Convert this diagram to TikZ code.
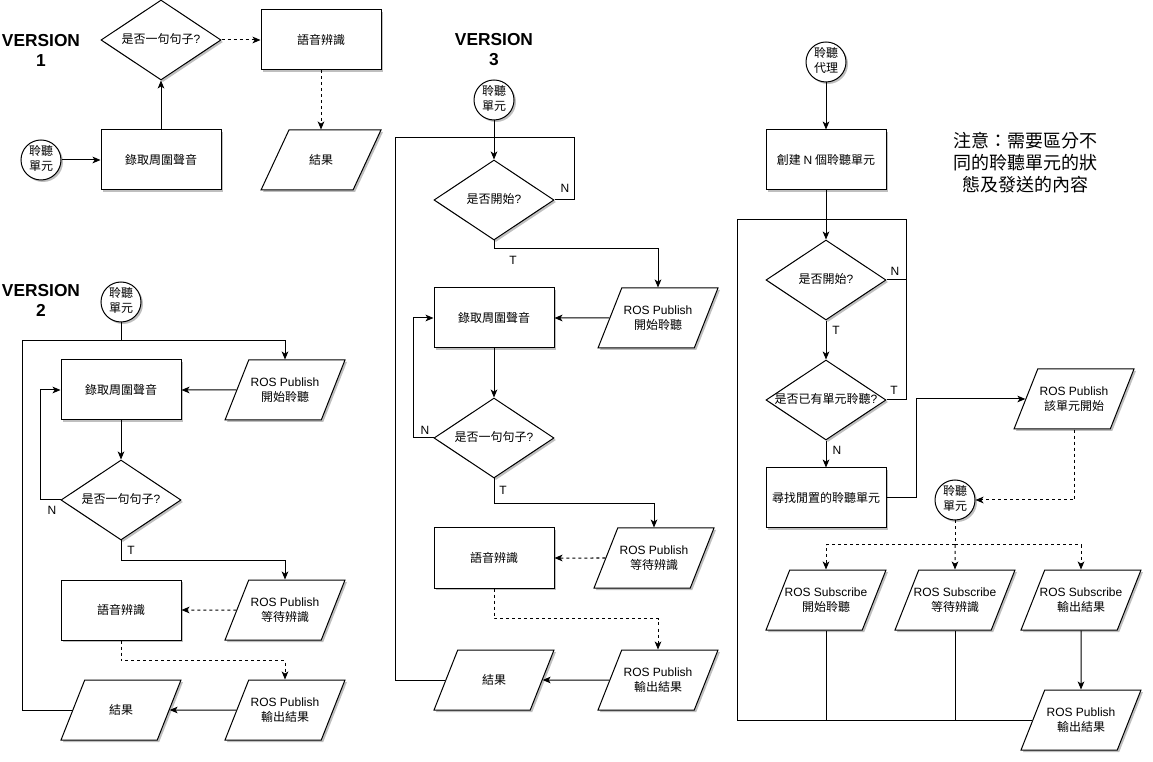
\documentclass[tikz,border=0pt]{standalone}
\usepackage{fontspec}
\setmainfont{Liberation Sans}
\newfontfamily\cjk{Noto Sans CJK TC}
\usetikzlibrary{shapes.geometric,arrows.meta,shadows}
\newcommand\la[1]{{\rmfamily #1}}
\newcommand\zw[1]{\makebox[0pt]{\begin{tabular}{@{}c@{}}#1\end{tabular}}}
\newcommand\ph{\phantom{x}}
\begin{document}
\begin{tikzpicture}[x=0.75pt,y=-0.75pt,line width=0.75pt,
  every node/.style={font=\cjk\fontsize{9}{11.5}\selectfont, inner sep=0pt},
  shd/.style={drop shadow={shadow xshift=1.5pt,shadow yshift=-1.5pt,opacity=0.25,fill=black}},
  procbox/.style={draw, fill=white, rectangle, minimum width=90pt, minimum height=45pt, shd},
  decbox/.style={draw, fill=white, diamond, minimum width=90pt, minimum height=60pt, shd},
  iobox/.style={draw, fill=white, trapezium, trapezium stretches=true, trapezium left angle=73.3, trapezium right angle=106.7, minimum width=90pt, minimum height=45pt, shd,
    label={[align=center]center:#1}},
  termbox/.style={draw, fill=white, circle, minimum size=30pt, shd},
  arr/.style={-{Stealth[length=6pt,width=5pt,inset=1.6pt]}},
  dsh/.style={dash pattern=on 2.25pt off 2.25pt},
  lbl/.style={font=\rmfamily\fontsize{9}{11}\selectfont},
  vlab/.style={font=\rmfamily\bfseries\fontsize{13}{15}\selectfont, align=center},
]
\fill[white] (0,0) rectangle (1153,762);
\useasboundingbox (0,0) rectangle (1153,762);

% ---------- VERSION 1
\node[vlab] (v1lab) at (41,50) {VERSION\\1};
\node[termbox] (v1c) at (41,160) {\zw{聆聽\\單元}};
\node[procbox] (v1rec) at (161,160) {錄取周圍聲音};
\node[decbox] (v1dec) at (161,40) {\zw{是否一句句子\la{?}}};
\node[procbox] (v1asr) at (321,40) {語音辨識};
\node[iobox={結果}, trapezium left angle=68.2, trapezium right angle=111.8] (v1res) at (321,160) {\ph};

\draw[arr] (v1c) -- (v1rec);
\draw[arr] (v1rec) -- (v1dec);
\draw[arr,dsh] (v1dec) -- (v1asr);
\draw[arr,dsh] (v1asr) -- (v1res);

% ---------- VERSION 2
\node[vlab] (v2lab) at (41,300) {VERSION\\2};
\node[termbox] (v2c) at (121,302) {\zw{聆聽\\單元}};
\node[procbox] (v2rec) at (121,390) {錄取周圍聲音};
\node[iobox={\la{ROS Publish}\\開始聆聽}] (v2pub1) at (285,390) {\ph};
\node[decbox] (v2dec) at (121,500) {\zw{是否一句句子\la{?}}};
\node[iobox={\la{ROS Publish}\\等待辨識}] (v2pub2) at (285,610) {\ph};
\node[procbox] (v2asr) at (121,610) {語音辨識};
\node[iobox={\la{ROS Publish}\\輸出結果}] (v2pub3) at (285,710) {\ph};
\node[iobox={結果}] (v2res) at (121,710) {\ph};
\coordinate (v2L) at (22,341);
\node[lbl] (v2n) at (52,510) {N};
\node[lbl] (v2t) at (131,550) {T};

\draw (v2c) -- (v2c |- v2L);
\draw[arr] (v2res.west) -| (v2L) -| (v2pub1.north);
\draw[arr] (v2pub1) -- (v2rec);
\draw[arr] (v2rec) -- (v2dec);
\draw[arr] (v2dec.west) -- ++(-20,0) |- (v2rec.west);
\draw[arr] (v2dec.south) -- ++(0,20) -| (v2pub2.north);
\draw[arr,dsh] (v2pub2) -- (v2asr);
\draw[arr,dsh] (v2asr.south) -- ++(0,20) -| (v2pub3.north);
\draw[arr] (v2pub3) -- (v2res);

% ---------- VERSION 3
\node[vlab] (v3lab) at (494,50) {VERSION\\3};
\node[termbox] (v3c) at (494,100) {\zw{聆聽\\單元}};
\node[decbox] (v3dec1) at (494,200) {\zw{是否開始\la{?}}};
\node[iobox={\la{ROS Publish}\\開始聆聽}] (v3pub1) at (658,318) {\ph};
\node[procbox] (v3rec) at (494,318) {錄取周圍聲音};
\node[decbox] (v3dec2) at (494,438) {\zw{是否一句句子\la{?}}};
\node[iobox={\la{ROS Publish}\\等待辨識}] (v3pub2) at (654,558) {\ph};
\node[procbox] (v3asr) at (494,558) {語音辨識};
\node[iobox={\la{ROS Publish}\\輸出結果}] (v3pub3) at (658,680) {\ph};
\node[iobox={結果}] (v3res) at (494,680) {\ph};
\coordinate (v3j) at (494,138);
\coordinate (v3L) at (395,138);
\node[lbl] (v3n1) at (565,188) {N};
\node[lbl] (v3t1) at (513,260) {T};
\node[lbl] (v3n2) at (425,430) {N};
\node[lbl] (v3t2) at (503,490) {T};

\draw[arr] (v3c) -- (v3dec1);
\draw (v3res.west) -| (v3L) -- (v3j);
\draw (v3dec1.east) -- ++(20,0) |- (v3j);
\draw[arr] (v3dec1.south) -- ++(0,8) -| (v3pub1.north);
\draw[arr] (v3pub1) -- (v3rec);
\draw[arr] (v3rec) -- (v3dec2);
\draw[arr] (v3dec2.west) -- ++(-20,0) |- (v3rec.west);
\draw[arr] (v3dec2.south) -- ++(0,25) -| (v3pub2.north);
\draw[arr,dsh] (v3pub2) -- (v3asr);
\draw[arr,dsh] (v3asr.south) -- ++(0,30) -| (v3pub3.north);
\draw[arr] (v3pub3) -- (v3res);

% ---------- VERSION 4 (agent)
\node[termbox] (v4c) at (826,62) {\zw{聆聽\\代理}};
\node[procbox] (v4create) at (826,160) {創建 \la{N} 個聆聽單元};
\node[decbox] (v4dec1) at (826,280) {\zw{是否開始\la{?}}};
\node[decbox] (v4dec2) at (826,400) {\zw{是否已有單元聆聽\la{?}}};
\node[procbox] (v4find) at (826,498) {尋找閒置的聆聽單元};
\node[iobox={\la{ROS Publish}\\該單元開始}] (v4pub) at (1074,399) {\ph};
\node[termbox] (v4c2) at (955,500) {\zw{聆聽\\單元}};
\node[iobox={\la{ROS Subscribe}\\開始聆聽}] (v4s1) at (826,600) {\ph};
\node[iobox={\la{ROS Subscribe}\\等待辨識}] (v4s2) at (955,600) {\ph};
\node[iobox={\la{ROS Subscribe}\\輸出結果}] (v4s3) at (1081,600) {\ph};
\node[iobox={\la{ROS Publish}\\輸出結果}] (v4out) at (1081,720) {\ph};
\node[font=\cjk\fontsize{13.5}{16.5}\selectfont, align=center] (note) at (1025,163) {注意：需要區分不\\同的聆聽單元的狀\\態及發送的內容};
\coordinate (v4j) at (826,220);
\coordinate (v4bl) at (737,720);
\coordinate (v4b) at (955,545);
\node[lbl] (v4n1) at (895,271) {N};
\node[lbl] (v4t1) at (836,330) {T};
\node[lbl] (v4t2) at (894,390) {T};
\node[lbl] (v4n2) at (837,450) {N};

\draw[arr] (v4c) -- (v4create);
\draw[arr] (v4create) -- (v4dec1);
\draw (v4dec1.east) -- ++(20,0) |- (v4j);
\draw (v4dec2.east) -- ++(20,0) |- (v4j);
\draw[arr] (v4dec1) -- (v4dec2);
\draw[arr] (v4dec2) -- (v4find);
\draw[arr] (v4find.east) -- ++(30,0) |- (v4pub.west);
\draw[arr,dsh] (v4pub.south) |- (v4c2.east);
\draw[dsh] (v4c2) -- (v4b);
\draw[arr,dsh] (v4b) -| (v4s1.north);
\draw[arr,dsh] (v4b) -- (v4s2.north);
\draw[arr,dsh] (v4b) -| (v4s3.north);
\draw[arr] (v4s3) -- (v4out);
\draw (v4out.west) -- (v4bl) |- (v4j);
\draw (v4s1.south) -- (v4s1.south |- v4bl);
\draw (v4s2.south) -- (v4s2.south |- v4bl);
\end{tikzpicture}
\end{document}
